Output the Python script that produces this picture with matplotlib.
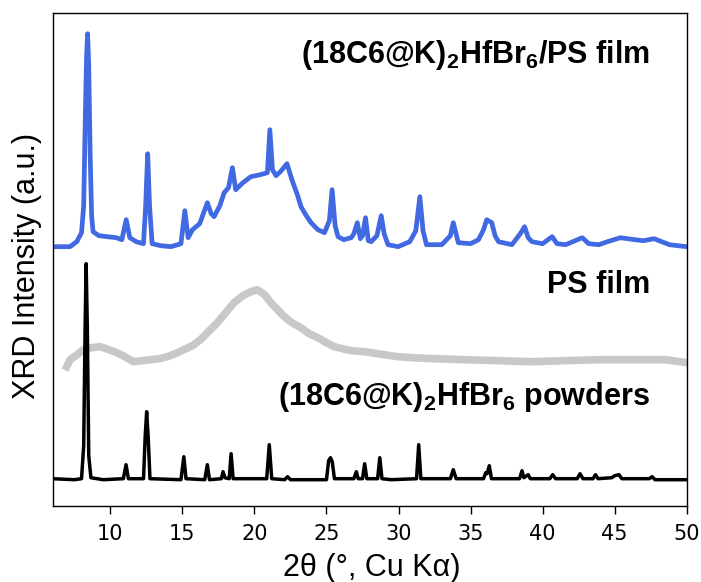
import matplotlib
matplotlib.use("Agg")
import matplotlib.pyplot as plt

# ---- XRD patterns (2theta in degrees, stacked intensity in a.u.) ----
powder_x = [6.0, 7.5, 8.0, 8.15, 8.25, 8.32, 8.4, 8.5, 8.65, 9.5, 10.9, 11.09, 11.25,
            12.3, 12.42, 12.52, 12.62, 12.75, 14.9, 15.1, 15.25, 16.55, 16.73, 16.88,
            17.7, 17.82, 17.95, 18.25, 18.38, 18.52, 20.85, 21.03, 21.2, 22.1, 22.3, 22.5,
            25.0, 25.15, 25.28, 25.4, 25.55, 26.9, 27.07, 27.2, 27.5, 27.65, 27.8,
            28.55, 28.7, 28.85, 29.5, 31.25, 31.4, 31.55, 33.6, 33.8, 34.0,
            35.9, 36.05, 36.15, 36.3, 36.45, 38.4, 38.57, 38.7, 39.0, 39.15,
            40.5, 40.7, 40.9, 42.4, 42.6, 42.8, 43.5, 43.67, 43.85, 44.8, 45.0, 45.3, 45.5,
            47.4, 47.6, 47.8, 50.0]
powder_y = [27, 26, 27, 60, 180, 242, 180, 50, 28, 26, 27, 41, 27,
            27, 70, 94, 70, 27, 26, 49, 27, 26, 41, 26,
            27, 34, 28, 27, 52, 27, 27, 61, 27, 26, 29, 26,
            26, 45, 48, 44, 27, 27, 34, 27, 27, 42, 27,
            27, 48, 27, 26, 27, 61, 27, 27, 36, 27,
            27, 33, 32, 40, 27, 27, 35, 28, 31, 27,
            27, 31, 27, 27, 32, 27, 27, 31, 27, 28, 30, 31, 27,
            27, 29, 26, 26]

ps_x = [6.97, 7.2, 7.6, 8.13, 8.7, 9.3, 9.9, 10.46, 11.0, 11.6, 12.2, 12.78, 13.4, 13.94,
        14.5, 15.1, 15.7, 16.26, 16.8, 17.43, 18.0, 18.58, 19.2, 19.75, 20.2, 20.7,
        21.14, 21.6, 22.07, 22.6, 23.23, 23.8, 24.4, 25.0, 25.55, 26.1, 26.7, 27.64,
        28.1, 29.0, 29.97, 31.0, 32.5, 34.6, 37.0, 39.26, 41.5, 43.9, 46.0, 48.55, 50.0]
ps_y = [139, 146, 150, 156, 158, 159, 156, 153, 149, 144, 145, 146, 147, 149,
        152, 156, 160, 166, 174, 183, 193, 203, 210, 214, 216, 211,
        203, 196, 189, 183, 178, 172, 168, 163, 159, 157, 155, 154,
        153, 151, 149, 148, 147, 146, 145, 144, 145, 146, 146, 146, 143]

film_x = [6.0, 7.2, 7.67, 8.0, 8.15, 8.25, 8.35, 8.42, 8.5, 8.6, 8.7, 8.8, 9.2, 9.8, 10.4,
          10.8, 11.1, 11.35, 11.8, 12.3, 12.45, 12.59, 12.72, 12.9, 13.5, 14.2, 14.9,
          15.17, 15.4, 15.7, 16.2, 16.73, 17.0, 17.2, 17.6, 17.9, 18.2, 18.47, 18.7,
          19.2, 19.75, 20.4, 20.9, 21.07, 21.25, 21.5, 21.8, 22.26, 22.6, 23.0, 23.23,
          23.6, 23.93, 24.4, 24.86, 25.2, 25.39, 25.6, 25.8, 26.2, 26.72, 26.9, 27.14,
          27.35, 27.5, 27.71, 27.9, 28.1, 28.5, 28.8, 29.0, 29.27, 29.97, 30.78, 31.2,
          31.48, 31.7, 31.94, 33.0, 33.6, 33.8, 34.15, 35.0, 35.55, 35.9, 36.12, 36.47,
          36.7, 36.94, 37.87, 38.45, 38.75, 39.0, 39.26, 40.0, 40.66, 41.0, 41.6, 42.75,
          43.2, 43.9, 44.5, 45.4, 46.4, 47.0, 47.74, 48.8, 50.0]
film_y = [259, 259, 264, 273, 300, 380, 450, 472, 440, 350, 290, 274, 270, 269, 268,
          266, 286, 268, 264, 262, 300, 352, 300, 262, 260, 259, 262,
          295, 268, 276, 282, 303, 292, 289, 300, 313, 318, 338, 316,
          323, 329, 331, 333, 376, 336, 330, 334, 342, 326, 310, 299,
          290, 283, 276, 273, 285, 316, 280, 269, 266, 268, 272, 283,
          267, 270, 288, 265, 264, 270, 290, 272, 261, 259, 264, 275,
          309, 275, 261, 261, 270, 283, 263, 262, 266, 276, 286, 283,
          270, 264, 261, 272, 279, 268, 264, 262, 269, 262, 261, 268,
          262, 261, 264, 268, 266, 265, 267, 261, 259]

x_ticks = [10, 15, 20, 25, 30, 35, 40, 45, 50]

# ---- styling ----
plt.rcParams["mathtext.fontset"] = "custom"
plt.rcParams["mathtext.rm"] = "Liberation Sans:bold"
plt.rcParams["mathtext.bf"] = "Liberation Sans:bold"
plt.rcParams["mathtext.it"] = "Liberation Sans:bold"

fig = plt.figure(figsize=(7.01, 5.82), dpi=100)
ax = fig.add_axes([0.0752, 0.1311, 0.9044, 0.8471])

ax.plot(ps_x, ps_y, color="#c8c8c8", lw=5.5, solid_joinstyle="round")
ax.plot(film_x, film_y, color="#4169e1", lw=3.4, solid_joinstyle="round")
ax.plot(powder_x, powder_y, color="black", lw=2.5, solid_joinstyle="round")

ax.set_xlim(6, 50)
ax.set_ylim(0, 493)
ax.set_yticks([])
ax.set_xticks(x_ticks)
ax.tick_params(axis="x", direction="out", length=6, width=1.0, pad=7,
               labelsize=15)
for lbl in ax.get_xticklabels():
    lbl.set_fontfamily("DejaVu Sans")
for s in ax.spines.values():
    s.set_linewidth(1.0)

ax.set_xlabel("2θ (°, Cu Kα)", fontsize=22, family="Liberation Sans")
ax.set_ylabel("XRD Intensity (a.u.)", fontsize=22, family="Liberation Sans")
ax.xaxis.set_label_coords(0.503, -0.095)
ax.yaxis.set_label_coords(-0.0164, 0.487)

lab_kw = dict(transform=ax.transAxes, ha="right", va="baseline", fontsize=22,
              fontweight="bold", family="Liberation Sans")
ax.text(0.942, 0.897, r"(18C6@K)$_2$HfBr$_6$/PS film", **lab_kw)
ax.text(0.942, 0.431, "PS film", **lab_kw)
ax.text(0.942, 0.204, r"(18C6@K)$_2$HfBr$_6$ powders", **lab_kw)

fig.savefig("out.png", dpi=100)
